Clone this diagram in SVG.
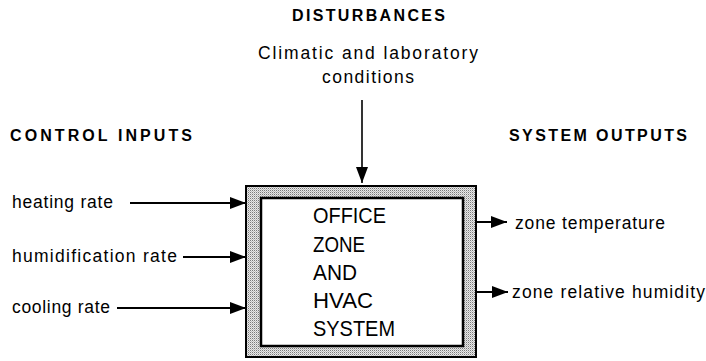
<svg xmlns="http://www.w3.org/2000/svg" width="706" height="361" viewBox="0 0 706 361">
<style>
text{font-family:"Liberation Sans",Arial,Helvetica,sans-serif;fill:#000;}
.h{font-size:16px;font-weight:bold;}
.l{font-size:17.5px;}
.b{font-size:22px;}
.c{stroke:#000;fill:none;}
</style>
<defs>
<pattern id="stip" patternUnits="userSpaceOnUse" width="2" height="2">
<rect width="2" height="2" fill="#e8e8e8"/>
<rect width="1" height="1" fill="#7a7a7a"/>
<rect x="1" y="1" width="1" height="1" fill="#bdbdbd"/>
</pattern>
<marker id="ah" viewBox="0 0 16 12" refX="16" refY="6" markerWidth="16" markerHeight="12" markerUnits="userSpaceOnUse" orient="auto">
<path d="M0,0 L16,6 L0,12 z" fill="#000"/>
</marker>
</defs>
<g id="disturbances">
<text class="h" x="292" y="21" textLength="153" lengthAdjust="spacing">DISTURBANCES</text>
<text class="l" x="368" y="59" text-anchor="middle" textLength="220" lengthAdjust="spacing">Climatic and laboratory</text>
<text class="l" x="368" y="83" text-anchor="middle" textLength="92" lengthAdjust="spacing">conditions</text>
</g>
<g id="control-inputs">
<text class="h" x="10" y="141" textLength="182" lengthAdjust="spacing">CONTROL INPUTS</text>
<text class="l" x="12" y="208" textLength="101" lengthAdjust="spacing">heating rate</text>
<text class="l" x="12" y="262" textLength="165" lengthAdjust="spacing">humidification rate</text>
<text class="l" x="12" y="313" textLength="98" lengthAdjust="spacing">cooling rate</text>
</g>
<g id="system">
<rect x="246" y="186" width="230" height="171" fill="url(#stip)" stroke="#000" stroke-width="2"/>
<rect x="261" y="198" width="202" height="148" fill="#fff" stroke="#000" stroke-width="2.5"/>
<text class="b" x="313" y="223" textLength="73" lengthAdjust="spacingAndGlyphs">OFFICE</text>
<text class="b" x="313" y="252" textLength="52" lengthAdjust="spacingAndGlyphs">ZONE</text>
<text class="b" x="313" y="280" textLength="44" lengthAdjust="spacingAndGlyphs">AND</text>
<text class="b" x="313" y="308" textLength="60" lengthAdjust="spacingAndGlyphs">HVAC</text>
<text class="b" x="313" y="336" textLength="82" lengthAdjust="spacingAndGlyphs">SYSTEM</text>
</g>
<g id="system-outputs">
<text class="h" x="509" y="141" textLength="178" lengthAdjust="spacing">SYSTEM OUTPUTS</text>
<text class="l" x="515" y="229" textLength="150" lengthAdjust="spacing">zone temperature</text>
<text class="l" x="512" y="298" textLength="193" lengthAdjust="spacing">zone relative humidity</text>
</g>
<g id="connectors">
<line class="c" x1="362" y1="100" x2="362" y2="183" stroke-width="1.6" marker-end="url(#ah)"/>
<line class="c" x1="130" y1="203" x2="246" y2="203" stroke-width="2" marker-end="url(#ah)"/>
<line class="c" x1="183" y1="257" x2="246" y2="257" stroke-width="2.2" marker-end="url(#ah)"/>
<line class="c" x1="117" y1="308" x2="246" y2="308" stroke-width="2" marker-end="url(#ah)"/>
<line class="c" x1="477" y1="222" x2="507" y2="222" stroke-width="2" marker-end="url(#ah)"/>
<line class="c" x1="477" y1="292" x2="508" y2="292" stroke-width="2" marker-end="url(#ah)"/>
</g>
</svg>
